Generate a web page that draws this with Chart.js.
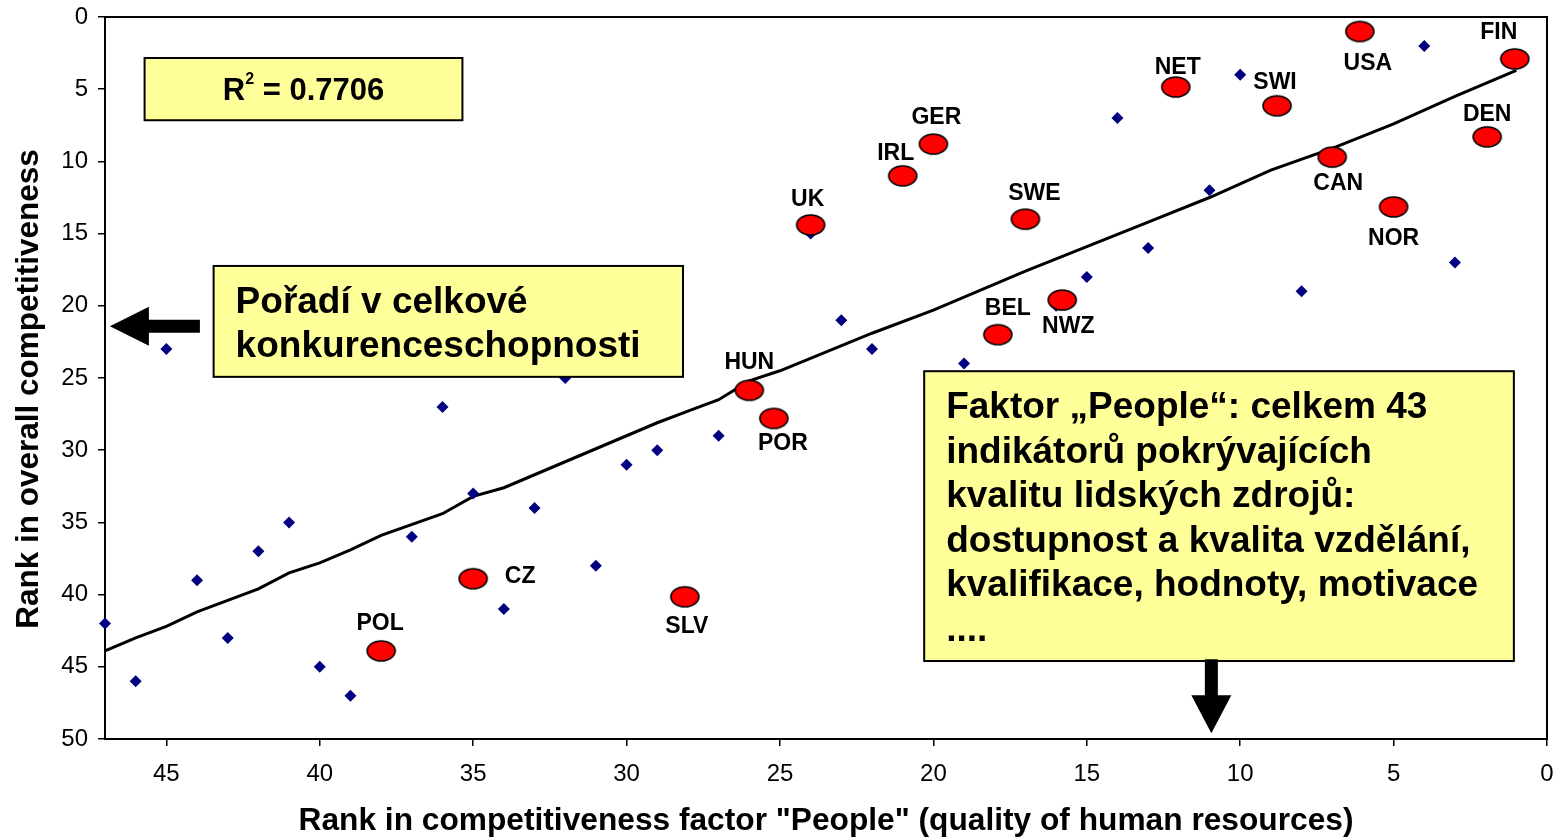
<!DOCTYPE html>
<html>
<head>
<meta charset="utf-8">
<title>People factor vs overall competitiveness</title>
<script src="https://cdn.jsdelivr.net/npm/chart.js@4"></script>
<style>
  html, body { margin: 0; padding: 0; background: #fff; }
  canvas { display: block; }
</style>
</head>
<body>
<canvas id="peopleChart" width="1562" height="839"></canvas>
<script>
// ================= DATA =================
// other countries: rank in factor "People" / rank in overall competitiveness
const otherPeople  = [47, 46, 45, 44, 43, 42, 41, 40, 39, 37, 36, 35, 34, 33, 32, 31, 30, 29, 27, 24, 23, 22, 19, 16, 15, 14, 13, 11, 10, 8, 4, 3];
const otherOverall = [42, 46, 23, 39, 43, 37, 35, 45, 47, 36, 27, 33, 41, 34, 25, 38, 31, 30, 29, 15, 21, 23, 24, 20, 18, 7, 16, 12, 4, 19, 2, 17];

// highlighted countries (red marks)
const countries      = ["USA", "FIN", "NET", "SWI", "DEN", "CAN", "NOR", "SWE", "NWZ", "GER", "IRL", "UK", "BEL", "HUN", "POR", "SLV", "CZ", "POL"];
const countryPeople  = [6.1, 1.05, 12.1, 8.8, 1.95, 7.0, 5.0, 17.0, 15.8, 20.0, 21.0, 24.0, 17.9, 26.0, 25.2, 28.1, 35.0, 38.0];
const countryOverall = [1.0, 2.9, 4.85, 6.15, 8.3, 9.7, 13.15, 14.0, 19.6, 8.8, 11.0, 14.4, 22.0, 25.85, 27.8, 40.15, 38.9, 43.9];

// trend line
const trendPeople  = [47, 46, 45, 44, 43, 42, 41, 40, 39, 38, 36, 35, 34, 32, 31, 29, 28, 27, 26, 25, 22, 20, 17, 15, 13, 11, 9, 7, 5, 3, 1];
const trendOverall = [43.9, 43.0, 42.2, 41.2, 40.4, 39.6, 38.5, 37.8, 36.9, 35.9, 34.4, 33.2, 32.6, 30.8, 29.9, 28.1, 27.3, 26.5, 25.2, 24.5, 21.9, 20.3, 17.6, 15.9, 14.2, 12.5, 10.6, 9.1, 7.4, 5.5, 3.7];

const xTicks = [45, 40, 35, 30, 25, 20, 15, 10, 5, 0];
const yTicks = [0, 5, 10, 15, 20, 25, 30, 35, 40, 45, 50];

const xTitle    = 'Rank in competitiveness factor "People" (quality of human resources)';
const yTitle    = "Rank in overall competitiveness";
const r2Value   = "0.7706";
const noteLeft  = ["Pořadí v celkové", "konkurenceschopnosti"];
const noteRight = ["Faktor „People“: celkem 43", "indikátorů pokrývajících", "kvalitu lidských zdrojů:",
                   "dostupnost a kvalita vzdělání,", "kvalifikace, hodnoty, motivace", "...."];

// ================= STYLE =================
const FONT = "'Liberation Sans', Arial, sans-serif";

// label offsets (px) from each red mark
const labelOffsets = [[8, 32], [-16, -26], [2, -19], [-2, -23], [0, -22], [6, 27], [0, 32], [9, -26], [6, 27],
                      [3, -26], [-7, -22], [-3, -25], [10, -26], [0, -28], [9, 25], [2, 30], [47, -2], [-1, -27]];

// note boxes, corners in axis units
const boxes = {
  r2:    { x1: 45.71, y1: 2.84, x2: 35.35, y2: 7.15 },
  left:  { x1: 43.46, y1: 17.24, x2: 28.16, y2: 24.92 },
  right: { x1: 20.30, y1: 24.53, x2: 1.08, y2: 44.60 }
};
// arrows, tip in axis units, sizes in px
const arrows = [
  { x: 46.84, y: 21.41, dir: "left", len: 90, head: 39, headW: 39, shaftW: 13 },
  { x: 10.94, y: 49.6, dir: "down", len: 74, head: 38, headW: 40, shaftW: 13 }
];

function makeEllipse(w, h) {
  const c = document.createElement("canvas");
  c.width = w + 4;
  c.height = h + 4;
  const g = c.getContext("2d");
  g.beginPath();
  g.ellipse(c.width / 2, c.height / 2, w / 2, h / 2, 0, 0, Math.PI * 2);
  g.fillStyle = "#FF0000";
  g.fill();
  g.lineWidth = 1.6;
  g.strokeStyle = "#000";
  g.stroke();
  return c;
}

function drawBox(ctx, x, y, b) {
  const left = x.getPixelForValue(b.x1), right = x.getPixelForValue(b.x2);
  const top = y.getPixelForValue(b.y1), bottom = y.getPixelForValue(b.y2);
  ctx.fillStyle = "#FFFF99";
  ctx.fillRect(left, top, right - left, bottom - top);
  ctx.lineWidth = 2;
  ctx.strokeStyle = "#000";
  ctx.strokeRect(left, top, right - left, bottom - top);
  return { left, top, right, bottom };
}

function drawLines(ctx, r, lines) {
  ctx.fillStyle = "#000";
  ctx.font = "bold 37px " + FONT;
  ctx.textAlign = "left";
  ctx.textBaseline = "alphabetic";
  lines.forEach((t, i) => ctx.fillText(t, r.left + 22, r.top + 47 + i * 44.5));
}

function drawArrow(ctx, px, py, a) {
  ctx.save();
  ctx.translate(px, py);
  if (a.dir === "down") ctx.rotate(-Math.PI / 2);
  // pointing left from the tip
  ctx.beginPath();
  ctx.moveTo(0, 0);
  ctx.lineTo(a.head, -a.headW / 2);
  ctx.lineTo(a.head, -a.shaftW / 2);
  ctx.lineTo(a.len, -a.shaftW / 2);
  ctx.lineTo(a.len, a.shaftW / 2);
  ctx.lineTo(a.head, a.shaftW / 2);
  ctx.lineTo(a.head, a.headW / 2);
  ctx.closePath();
  ctx.fillStyle = "#000";
  ctx.fill();
  ctx.restore();
}

// keep the plot area where the axes say, not pushed in by label overflow
function noOverflow(s) {
  s.paddingTop = 0;
  s.paddingBottom = 0;
  s.paddingLeft = 0;
  s.paddingRight = 0;
}

// ================= ANNOTATIONS PLUGIN =================
const notesPlugin = {
  id: "notes",
  beforeDatasetsDraw(chart) {
    const { ctx, chartArea: a } = chart;
    ctx.save();
    ctx.lineWidth = 2;
    ctx.strokeStyle = "#000";
    ctx.strokeRect(a.left, a.top, a.right - a.left, a.bottom - a.top);

    // y title, a little below the middle of the axis as in the original
    ctx.translate(29, (a.top + a.bottom) / 2 + 11);
    ctx.rotate(-Math.PI / 2);
    ctx.font = "bold 31.5px " + FONT;
    ctx.fillStyle = "#000";
    ctx.textAlign = "center";
    ctx.textBaseline = "middle";
    ctx.fillText(yTitle, 0, 0);
    ctx.restore();
  },
  afterDatasetsDraw(chart) {
    const { ctx } = chart;
    const x = chart.scales.x, y = chart.scales.y;
    ctx.save();

    // country labels
    ctx.font = "bold 23px " + FONT;
    ctx.fillStyle = "#000";
    ctx.textAlign = "center";
    ctx.textBaseline = "middle";
    countries.forEach((c, i) => {
      const px = x.getPixelForValue(countryPeople[i]) + labelOffsets[i][0];
      const py = y.getPixelForValue(countryOverall[i]) + labelOffsets[i][1];
      ctx.fillText(c, px, py);
    });

    // R^2 box
    const r = drawBox(ctx, x, y, boxes.r2);
    const big = "bold 31px " + FONT, small = "bold 16px " + FONT;
    ctx.font = big;
    const wR = ctx.measureText("R").width;
    const wRest = ctx.measureText(" = " + r2Value).width;
    ctx.font = small;
    const w2 = ctx.measureText("2").width;
    const cx = (r.left + r.right) / 2, cy = (r.top + r.bottom) / 2;
    const tx = cx - (wR + w2 + wRest) / 2;
    const base = cy + 11;
    ctx.fillStyle = "#000";
    ctx.textAlign = "left";
    ctx.textBaseline = "alphabetic";
    ctx.font = big;
    ctx.fillText("R", tx, base);
    ctx.font = small;
    ctx.fillText("2", tx + wR, base - 16);
    ctx.font = big;
    ctx.fillText(" = " + r2Value, tx + wR + w2, base);

    // text boxes
    drawLines(ctx, drawBox(ctx, x, y, boxes.left), noteLeft);
    drawLines(ctx, drawBox(ctx, x, y, boxes.right), noteRight);

    // arrows
    arrows.forEach(a => drawArrow(ctx, x.getPixelForValue(a.x), y.getPixelForValue(a.y), a));

    ctx.restore();
  }
};

// ================= CHART =================
const ctx = document.getElementById("peopleChart").getContext("2d");

new Chart(ctx, {
  type: "scatter",
  data: {
    datasets: [
      {
        label: "Highlighted",
        data: countries.map((c, i) => ({ x: countryPeople[i], y: countryOverall[i] })),
        pointStyle: makeEllipse(28, 20),
        pointRadius: 14,
        order: 0,
        clip: false
      },
      {
        label: "Countries",
        data: otherPeople.map((v, i) => ({ x: v, y: otherOverall[i] })),
        pointStyle: "rectRot",
        pointRadius: 6,
        backgroundColor: "#000080",
        borderColor: "#000080",
        borderWidth: 0,
        order: 1,
        clip: false
      },
      {
        label: "Trend",
        data: trendPeople.map((v, i) => ({ x: v, y: trendOverall[i] })),
        showLine: true,
        borderColor: "#000",
        borderWidth: 3,
        pointRadius: 0,
        tension: 0,
        order: 2
      }
    ]
  },
  options: {
    responsive: false,
    animation: false,
    devicePixelRatio: 1,
    layout: { padding: { top: 17, right: 12, left: 0, bottom: 0 } },
    plugins: {
      legend: { display: false },
      tooltip: { enabled: false }
    },
    scales: {
      x: {
        type: "linear",
        reverse: true,
        min: 0,
        max: 47,
        afterBuildTicks: s => { s.ticks = xTicks.map(v => ({ value: v })); },
        afterFit: s => { s.height = 100; noOverflow(s); },
        ticks: { color: "#000", padding: 14, font: { size: 24, family: FONT } },
        grid: { drawOnChartArea: false, drawTicks: true, tickLength: 7, color: "#000", lineWidth: 1.5 },
        border: { display: true, color: "#000", width: 2 },
        title: {
          display: true,
          text: xTitle,
          color: "#000",
          font: { size: 31.7, weight: "bold", family: FONT, lineHeight: 1.1 },
          padding: { top: 0, bottom: 0 }
        }
      },
      y: {
        type: "linear",
        reverse: true,
        min: 0,
        max: 50,
        afterBuildTicks: s => { s.ticks = yTicks.map(v => ({ value: v })); },
        afterFit: s => { s.width = 105; noOverflow(s); },
        ticks: { color: "#000", padding: 10, font: { size: 24, family: FONT } },
        grid: { drawOnChartArea: false, drawTicks: true, tickLength: 7, color: "#000", lineWidth: 1.5 },
        border: { display: true, color: "#000", width: 2 },
        title: { display: false }
      }
    }
  },
  plugins: [notesPlugin]
});
</script>
</body>
</html>
